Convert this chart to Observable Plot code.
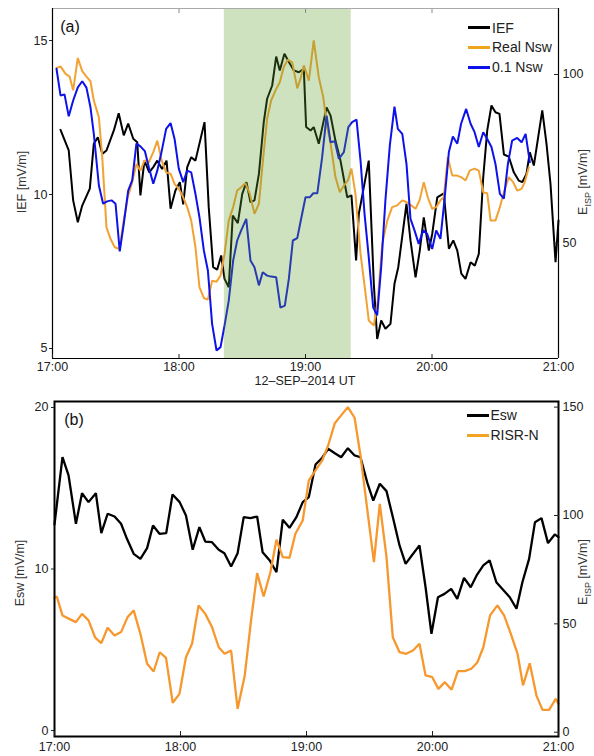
<!DOCTYPE html>
<html><head><meta charset="utf-8">
<script src="https://cdn.jsdelivr.net/npm/d3@7"></script>
<script src="https://cdn.jsdelivr.net/npm/@observablehq/plot@0.6"></script>
<style>
body{margin:0;background:#fff;}
#wrap{position:relative;width:594px;height:756px;font-family:"Liberation Sans",Arial,sans-serif;color:#222;overflow:hidden;}
#wrap svg{position:absolute;left:0;display:block;}
.lbl{position:absolute;white-space:nowrap;line-height:1;}
.rot{transform:translate(-50%,-50%) rotate(-90deg);}
.ctr{transform:translate(-50%,-50%);}
.leg{position:absolute;font-size:14px;line-height:1;white-space:nowrap;transform:translateY(-50%);}
.sw{display:inline-block;width:22px;height:3px;vertical-align:middle;margin-right:2px;position:relative;top:-1px;}
</style></head>
<body><div id="wrap"></div>
<script>
// ---------- Panel (a) data (minutes after 17:00 UT) ----------
const iefT = [3.8,7.7,9.8,12.0,14.1,17.7,19.6,21.5,23.6,25.6,29.1,31.4,33.8,35.9,38.3,40.2,41.7,43.6,45.9,47.8,49.7,52.0,54.1,56.0,58.3,60.4,62.0,63.9,65.8,67.8,72.1,74.1,76.2,78.1,80.0,81.6,83.6,85.5,87.9,90.0,92.0,93.9,95.8,97.9,100.2,101.8,104.2,106.1,107.8,110.0,112.1,114.5,116.8,119.2,120.3,122.4,123.9,126.3,130.0,131.9,134.2,136.6,139.8,141.8,144.0,145.3,150.0,152.4,154.0,155.9,157.9,160.3,162.2,164.0,167.9,169.8,172.2,174.2,176.1,178.5,180.1,182.5,185.6,188.0,190.1,192.0,193.9,195.9,198.3,200.3,202.2,204.3,206.2,208.2,210.1,212.0,214.1,216.4,218.8,221.2,222.8,224.8,226.4,228.3,232.3,234.3,236.2,238.6,240.0];
const iefV = [12.10,11.43,9.81,9.10,9.64,10.19,11.65,11.86,11.32,11.43,12.08,12.64,11.92,12.30,11.81,11.70,9.97,11.10,10.72,10.89,11.10,10.83,11.10,9.54,10.13,10.40,9.68,10.89,11.21,11.10,12.35,9.59,7.64,7.56,8.02,7.26,6.99,9.32,9.07,10.02,10.40,9.75,9.81,10.67,12.35,13.11,13.54,14.48,14.03,14.57,14.30,14.03,13.97,14.08,12.19,12.08,12.19,11.65,12.83,12.56,11.75,11.10,9.91,9.97,7.86,9.37,11.10,7.10,5.31,5.91,5.64,5.80,7.10,7.64,9.70,8.51,7.31,8.18,9.26,8.18,8.72,9.91,10.04,8.24,8.51,8.18,7.43,7.26,7.80,7.69,8.07,10.56,12.08,12.89,12.67,12.62,11.30,11.23,10.72,10.45,10.40,10.67,11.37,10.94,12.73,11.65,10.35,7.80,9.16];

const realT = [1.9,3.8,6.2,8.1,9.8,12.0,14.1,16.1,18.0,19.6,22.0,23.6,25.6,27.5,29.5,31.8,33.8,35.7,37.8,39.8,41.7,43.6,45.7,47.8,49.7,51.7,53.9,56.0,57.9,59.9,62.0,63.9,65.8,67.8,69.7,71.8,73.7,75.7,77.8,79.7,81.6,83.6,85.7,87.6,89.5,91.5,93.6,95.8,97.9,99.8,101.8,103.7,105.8,107.8,109.7,111.6,113.7,116.1,117.6,119.2,121.6,123.9,126.3,128.4,130.3,131.9,134.2,136.3,138.2,140.1,141.8,143.7,146.1,148.5,150.0,152.4,154.3,156.4,158.8,161.1,163.5,165.9,167.9,170.1,172.2,174.1,176.1,178.0,180.1,182.0,184.0,185.6,187.5,189.6,191.6,193.8,195.9,197.9,200.2,202.2,204.3,206.2,207.8,210.1,212.2,214.1,216.4,218.5,220.4,222.5,224.0,225.9];
const realV = [101.9,102.4,100.2,99.4,95.3,104.9,101.0,99.4,98.0,92.3,87.3,75.5,54.7,51.3,48.8,48.3,56.8,63.6,68.1,73.5,71.5,74.5,74.0,77.0,80.4,74.7,71.0,70.6,67.6,66.1,63.6,60.7,56.7,48.8,37.0,33.7,33.3,38.9,38.6,40.4,46.9,56.7,60.7,65.6,66.6,67.8,64.6,58.7,61.7,74.5,86.9,92.3,95.3,97.7,102.2,104.4,103.6,95.9,98.7,102.7,98.2,110.1,99.2,93.3,84.4,79.5,69.6,65.1,67.1,68.6,72.1,64.6,46.9,35.0,27.1,25.6,33.0,49.8,56.7,60.7,61.2,62.7,62.2,61.2,60.2,62.7,68.1,63.6,60.2,60.7,62.7,63.6,75.5,70.1,70.1,69.6,68.6,71.5,72.1,71.5,65.1,64.8,56.7,56.7,60.7,65.1,69.6,68.1,65.6,66.1,68.1,72.5];

const lowT = [1.9,3.8,5.7,7.7,9.8,12.0,14.1,16.1,18.0,19.6,22.0,24.0,25.9,28.0,29.9,31.9,33.8,35.9,37.8,39.8,41.7,43.8,45.7,47.8,49.7,51.7,53.9,56.0,57.9,59.9,62.0,63.9,65.8,67.8,69.7,71.8,73.7,75.7,77.8,79.7,81.6,83.6,85.7,87.6,89.5,91.9,93.9,95.8,97.9,99.7,101.8,103.7,106.1,108.1,110.2,112.1,114.0,116.1,117.6,120.0,122.0,123.7,125.6,127.9,130.0,131.9,133.9,135.8,138.2,140.3,142.1,144.2,146.1,148.0,150.0,152.1,154.0,155.9,157.9,160.0,162.2,163.8,165.9,167.9,169.8,171.7,173.7,175.8,177.7,180.1,182.0,184.0,185.9,188.0,189.9,192.0,193.8,196.2,198.3,200.2,202.2,204.3,206.2,208.2,210.1,212.2,214.1,216.0,218.0,220.4,222.5,224.4,226.4];
const lowV = [101.7,93.8,94.1,87.6,92.3,96.2,98.0,96.1,90.3,82.4,67.1,61.7,62.4,62.7,61.7,47.6,55.7,65.6,68.6,79.5,78.7,77.3,72.5,67.6,71.5,77.0,83.9,85.6,80.9,72.1,68.1,71.5,71.0,64.6,57.7,47.8,41.9,26.1,18.2,19.2,25.6,33.0,44.9,50.8,53.8,57.2,44.9,42.9,37.5,41.4,40.4,40.1,39.9,30.9,31.5,39.4,50.8,51.5,56.2,63.6,63.6,64.8,64.8,75.5,87.8,79.9,80.2,75.0,77.0,84.4,85.9,86.6,74.5,58.7,45.9,31.0,28.6,42.9,62.7,79.0,90.5,83.9,82.4,73.5,57.2,53.8,49.8,53.8,52.8,48.3,53.8,51.3,62.7,77.0,81.6,79.5,85.4,89.8,85.4,82.9,78.5,82.9,80.9,78.5,73.5,64.6,63.2,73.5,80.4,81.2,79.9,82.4,74.0];

const shadeStart = 81.5, shadeEnd = 141.7;
const leftTicksA = [5, 10, 15];
const rightTicksA = [50, 100];

// ---------- Panel (b) data ----------
const eswT = [0,3.8,6.7,10.2,13.1,16.2,19.7,22.3,25.3,28.6,31.7,34.5,37.7,40.9,44.1,46.9,50.0,53.2,56.2,59.6,62.6,65.8,69.0,71.8,75.0,78.2,80.9,84.1,87.2,90.1,93.3,96.5,99.1,102.5,105.7,108.7,111.9,115.2,118.2,121.1,124.3,127.5,130.3,133.5,136.5,139.7,142.9,145.7,148.9,151.8,154.9,158.1,161.3,164.3,167.2,170.4,173.8,176.7,179.5,182.6,185.7,188.9,191.8,195.0,198.2,201.0,204.2,207.2,210.4,213.6,216.8,220.0,222.8,226.0,228.8,231.9,235.0,238.2,240.0];
const eswV = [12.76,16.92,15.79,12.80,14.69,14.14,14.69,12.22,13.42,13.25,12.80,11.87,10.94,10.63,11.29,12.69,12.18,12.22,14.61,14.14,13.31,11.19,12.59,11.70,11.66,11.19,10.98,10.15,10.98,13.21,13.15,13.25,11.04,10.53,9.80,13.05,12.55,13.21,14.14,14.45,16.47,16.89,17.44,17.17,16.92,17.48,17.03,16.92,15.37,14.24,15.28,14.82,13.11,11.46,10.32,10.88,11.46,8.87,5.99,8.25,8.46,8.77,8.15,9.45,8.87,9.60,10.22,10.53,9.18,8.71,8.25,7.54,9.18,10.63,12.90,13.15,11.60,12.14,11.97];

const risrT = [0,1.1,3.8,7.0,10.2,13.1,16.2,19.4,22.3,25.3,28.6,31.7,34.8,37.7,40.9,44.1,47.2,50.1,53.1,56.3,59.5,62.6,65.5,68.6,71.8,75.0,78.2,81.0,84.1,87.2,90.6,93.6,96.5,99.6,102.8,105.7,108.7,111.9,114.7,118.2,121.1,124.3,127.5,130.3,133.5,136.5,139.7,142.9,145.7,148.9,152.1,154.9,158.1,161.1,164.3,167.5,170.7,173.8,176.7,179.9,182.8,185.9,189.1,192.1,195.3,198.5,201.4,204.2,207.4,210.9,214.1,217.3,220.5,223.1,226.3,229.5,232.4,235.5,238.7,240.0];
const risrV = [62.0,62.6,53.9,52.3,50.8,54.6,51.6,43.6,41.1,48.2,44.6,46.2,53.1,56.2,45.4,31.6,28.0,36.9,34.3,13.6,17.7,34.6,40.8,58.5,54.6,48.5,39.2,36.2,37.7,10.8,26.2,51.6,73.4,62.6,73.8,88.8,80.8,80.5,91.6,97.7,116.2,120.8,125.4,132.3,142.6,146.2,150.0,145.1,127.7,103.1,78.5,105.4,80.8,43.8,36.9,36.2,37.7,40.8,26.2,25.4,20.0,23.1,19.6,28.2,28.2,29.3,32.3,39.2,53.9,58.5,53.9,45.4,36.2,21.6,31.8,16.9,10.3,10.3,15.4,13.1];

const leftTicksB = [0, 10, 20];
const rightTicksB = [0, 50, 100, 150];
const hourMinutes = [0, 60, 120, 180, 240];

// ---------- helpers ----------
const base = Date.UTC(2014, 8, 12, 17, 0);
const T = m => new Date(base + m * 60000);
const fmt = d3.utcFormat("%H:%M");
const pts = (ts, vs) => ts.map((t, i) => ({t: T(t), v: vs[i]}));
const hourTicks = hourMinutes.map(T);
const font = '"Liberation Sans", Arial, Helvetica, sans-serif';

const orangeA = "#F2A233", blueA = "#0D12E8", orangeB = "#F7982E";

// ---------- Panel (a) ----------
const yA = [4.675, 16.04];
const rA = [15.83, 119.56];
const toLeftA = d3.scaleLinear().domain(rA).range(yA);

const plotA = Plot.plot({
  width: 594, height: 392,
  marginLeft: 52, marginRight: 36, marginTop: 8, marginBottom: 34,
  style: {fontFamily: font, fontSize: "12.5px", color: "#222", background: "transparent", overflow: "visible"},
  x: {type: "utc", domain: [T(0), T(240)], label: null},
  y: {domain: yA, label: null},
  marks: [
    Plot.line(pts(iefT, iefV), {x: "t", y: "v", stroke: "#000", strokeWidth: 2, strokeLinejoin: "miter"}),
    Plot.line(pts(realT, realV), {x: "t", y: d => toLeftA(d.v), stroke: orangeA, strokeWidth: 2, strokeLinejoin: "miter"}),
    Plot.line(pts(lowT, lowV), {x: "t", y: d => toLeftA(d.v), stroke: blueA, strokeWidth: 2, strokeLinejoin: "miter"}),
    Plot.rect([{a: T(shadeStart), b: T(shadeEnd)}], {x1: "a", x2: "b", fill: "#5f9e2d", fillOpacity: 0.3}),
    Plot.ruleY([yA[1]], {stroke: "#aaa", strokeWidth: 1.2}),
    Plot.ruleY([yA[0]], {stroke: "#000", strokeWidth: 1.2}),
    Plot.ruleX([T(0), T(240)], {stroke: "#000", strokeWidth: 1.2}),
    Plot.axisX(hourTicks, {anchor: "bottom", tickSize: -4, tickPadding: 8, tickFormat: fmt}),
    Plot.axisX(hourTicks.slice(1, -1), {anchor: "top", tickSize: -4, tickFormat: () => "", stroke: "#888"}),
    Plot.axisY(leftTicksA, {anchor: "left", tickSize: 3, tickPadding: 2}),
    Plot.axisY(rightTicksA.map(toLeftA), {anchor: "right", tickSize: -5, tickPadding: 9, tickFormat: d => Math.round(toLeftA.invert(d))})
  ]
});
plotA.style.top = "0px";

// ---------- Panel (b) ----------
const yB = [-0.37, 20.37];
const rB = [-1.98, 152.6];
const toLeftB = d3.scaleLinear().domain(rB).range(yB);

const plotB = Plot.plot({
  width: 594, height: 364,
  marginLeft: 54, marginRight: 36, marginTop: 9, marginBottom: 20,
  style: {fontFamily: font, fontSize: "12.5px", color: "#222", background: "transparent", overflow: "visible"},
  x: {type: "utc", domain: [T(0), T(240)], label: null},
  y: {domain: yB, label: null},
  marks: [
    Plot.line(pts(eswT, eswV), {x: "t", y: "v", stroke: "#000", strokeWidth: 2.3, strokeLinejoin: "miter"}),
    Plot.line(pts(risrT, risrV), {x: "t", y: d => toLeftB(d.v), stroke: orangeB, strokeWidth: 2.3, strokeLinejoin: "miter"}),
    Plot.frame({stroke: "#000", strokeWidth: 2}),
    Plot.axisX(hourTicks, {anchor: "bottom", tickSize: -5, tickPadding: 11, tickFormat: fmt}),
    Plot.axisY(leftTicksB, {anchor: "left", tickSize: 3, tickPadding: 3}),
    Plot.axisY(rightTicksB.map(toLeftB), {anchor: "right", tickSize: -5, tickPadding: 9, tickFormat: d => Math.round(toLeftB.invert(d))})
  ]
});
plotB.style.top = "392px";

const wrap = document.getElementById("wrap");
wrap.appendChild(plotA);
wrap.appendChild(plotB);

// ---------- Text overlays ----------
function addLabel(html, x, y, cls, size, color) {
  const d = document.createElement("div");
  d.className = "lbl " + cls;
  d.style.left = x + "px";
  d.style.top = y + "px";
  d.style.fontSize = size + "px";
  if (color) d.style.color = color;
  d.innerHTML = html;
  wrap.appendChild(d);
}
addLabel("(a)", 70, 27, "ctr", 16, "#111");
addLabel("(b)", 74, 420, "ctr", 16, "#111");
addLabel("IEF [mV/m]", 22, 182, "rot", 12.5, "#333");
addLabel("E<sub style='font-size:9px'>ISP</sub> [mV/m]", 585, 182, "rot", 12.5, "#333");
addLabel("Esw [mV/m]", 20, 573, "rot", 12.5, "#333");
addLabel("E<sub style='font-size:9px'>ISP</sub> [mV/m]", 585, 572, "rot", 12.5, "#333");
addLabel("12–SEP–2014 UT", 305, 381, "ctr", 12.5, "#222");

function addLegend(items, x, y0, dy) {
  items.forEach(([name, color], i) => {
    const d = document.createElement("div");
    d.className = "leg";
    d.style.left = x + "px";
    d.style.top = (y0 + i * dy) + "px";
    d.innerHTML = `<span class="sw" style="background:${color}"></span>${name}`;
    wrap.appendChild(d);
  });
}
addLegend([["IEF", "#000"], ["Real Nsw", "#EDA61C"], ["0.1 Nsw", blueA]], 468, 27.5, 19.7);
addLegend([["Esw", "#000"], ["RISR-N", "#F3A322"]], 466.5, 415, 20);
</script></body></html>
